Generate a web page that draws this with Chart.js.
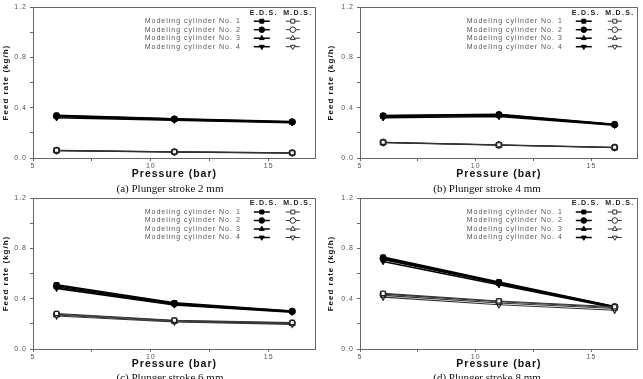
<!DOCTYPE html>
<html>
<head>
<meta charset="utf-8">
<script src="https://cdn.jsdelivr.net/npm/chart.js@4/dist/chart.umd.min.js"></script>
<style>
  html, body { margin: 0; padding: 0; background: #fff; }
  body { width: 643px; height: 379px; position: relative; overflow: hidden; }
  canvas { position: absolute; }
  .cap { position: absolute; font-family: "Liberation Serif", "Times New Roman", serif; font-size: 11px; line-height: 11px; color: #111; text-align: center; width: 240px; white-space: nowrap; z-index: 2; }
</style>
</head>
<body>
<canvas id="ca" width="321" height="190" style="left:0;top:0"></canvas>
<canvas id="cb" width="322" height="190" style="left:321px;top:0"></canvas>
<canvas id="cc" width="321" height="189" style="left:0;top:190px"></canvas>
<canvas id="cd" width="322" height="189" style="left:321px;top:190px"></canvas>
<div class="cap" id="capa" style="left:50px;top:183px"></div>
<div class="cap" id="capb" style="left:367px;top:183px"></div>
<div class="cap" id="capc" style="left:50px;top:372px"></div>
<div class="cap" id="capd" style="left:367px;top:372px"></div>
<script>
// ---- data ----
const pressure = [6, 11, 16];
const xTickLabels = [5, 10, 15];
const yTickLabels = [0.0, 0.4, 0.8, 1.2];
const cylinders = ['Modeling cylinder No. 1', 'Modeling cylinder No. 2', 'Modeling cylinder No. 3', 'Modeling cylinder No. 4'];
const groupLabels = ['E.D.S.', 'M.D.S.'];
const captions = ['(a) Plunger stroke 2 mm', '(b) Plunger stroke 4 mm', '(c) Plunger stroke 6 mm', '(d) Plunger stroke 8 mm'];

// E.D.S. (filled markers), one row per cylinder, values at pressure 6, 11, 16 bar
const eds2mm = [[0.340, 0.312, 0.290], [0.335, 0.310, 0.287], [0.330, 0.305, 0.284], [0.320, 0.300, 0.280]];
const mds2mm = [[0.062, 0.050, 0.042], [0.060, 0.049, 0.041], [0.059, 0.048, 0.040], [0.058, 0.047, 0.039]];

const eds4mm = [[0.337, 0.347, 0.268], [0.335, 0.344, 0.266], [0.330, 0.338, 0.264], [0.320, 0.330, 0.260]];
const mds4mm = [[0.125, 0.105, 0.085], [0.124, 0.104, 0.084], [0.123, 0.103, 0.083], [0.121, 0.101, 0.081]];

const eds6mm = [[0.510, 0.367, 0.302], [0.503, 0.362, 0.299], [0.493, 0.356, 0.296], [0.482, 0.350, 0.292]];
const mds6mm = [[0.282, 0.228, 0.210], [0.276, 0.224, 0.206], [0.270, 0.219, 0.202], [0.262, 0.214, 0.196]];

const eds8mm = [[0.730, 0.533, 0.338], [0.722, 0.527, 0.335], [0.712, 0.520, 0.332], [0.695, 0.510, 0.328]];
const mds8mm = [[0.442, 0.382, 0.336], [0.436, 0.376, 0.330], [0.426, 0.366, 0.322], [0.412, 0.352, 0.308]];

// ---- styling ----
const SANS = '"Liberation Sans", Arial, sans-serif';
const markerStyles = ['rect', 'circle', 'triangle', 'triangle'];
const markerRot = [0, 0, 0, 180];
const AXIS = '#666';

const framePlugin = {
  id: 'frame',
  beforeDraw(chart) { chart.ctx.letterSpacing = '1px'; },
  afterDraw(chart) {
    const {ctx, chartArea: a} = chart;
    ctx.save();
    ctx.strokeStyle = AXIS;
    ctx.lineWidth = 1;
    ctx.beginPath();
    ctx.moveTo(Math.round(a.left) + 0.5, Math.round(a.top) + 0.5);
    ctx.lineTo(Math.round(a.right) - 0.5, Math.round(a.top) + 0.5);
    ctx.lineTo(Math.round(a.right) - 0.5, Math.round(a.bottom) + 0.5);
    ctx.stroke();

    // legend
    const R = a.right, T = a.top;
    const xE = R - 54, xM = R - 23, xText = R - 75;
    ctx.fillStyle = '#222';
    ctx.textBaseline = 'middle';
    ctx.letterSpacing = '1.3px';
    ctx.font = 'bold 7px ' + SANS;
    ctx.textAlign = 'center';
    ctx.fillText(groupLabels[0], R - 52, T + 5.5);
    ctx.fillText(groupLabels[1], R - 18, T + 5.5);
    ctx.letterSpacing = '1px';
    ctx.font = '7px ' + SANS;
    ctx.textAlign = 'right';
    for (let i = 0; i < cylinders.length; i++) {
      const y = T + 14 + i * 8.5;
      ctx.fillStyle = '#555';
      ctx.fillText(cylinders[i], xText, y);
      // EDS sample
      ctx.strokeStyle = '#000';
      ctx.lineWidth = 1.5;
      ctx.beginPath(); ctx.moveTo(xE - 8, y); ctx.lineTo(xE + 8, y); ctx.stroke();
      ctx.fillStyle = '#000';
      ctx.lineWidth = 1;
      Chart.helpers.drawPoint(ctx, {pointStyle: markerStyles[i], rotation: markerRot[i], radius: 2.8, borderWidth: 1}, xE, y);
      // MDS sample
      ctx.strokeStyle = '#333';
      ctx.lineWidth = 1;
      ctx.beginPath(); ctx.moveTo(xM - 7, y); ctx.lineTo(xM + 7, y); ctx.stroke();
      ctx.fillStyle = '#fff';
      Chart.helpers.drawPoint(ctx, {pointStyle: markerStyles[i], rotation: markerRot[i], radius: 2.8, borderWidth: 1}, xM, y);
    }
    ctx.restore();
  }
};

function makeChart(id, eds, mds, cfg) {
  const datasets = [];
  for (let i = 0; i < 4; i++) {
    datasets.push({
      data: pressure.map((p, j) => ({x: p, y: mds[i][j]})),
      borderColor: '#333', backgroundColor: '#fff', pointBackgroundColor: '#fff',
      pointBorderColor: '#222', borderWidth: 1.1, pointBorderWidth: 1.2,
      pointStyle: markerStyles[i], pointRotation: markerRot[i], pointRadius: 3
    });
  }
  for (let i = 0; i < 4; i++) {
    datasets.push({
      data: pressure.map((p, j) => ({x: p, y: eds[i][j]})),
      borderColor: '#000', backgroundColor: '#000', pointBackgroundColor: '#000',
      pointBorderColor: '#000', borderWidth: 1.6, pointBorderWidth: 1,
      pointStyle: markerStyles[i], pointRotation: markerRot[i], pointRadius: 3.2
    });
  }
  const canvas = document.getElementById(id);
  const H = canvas.height;
  return new Chart(canvas, {
    type: 'line',
    data: {datasets},
    plugins: [framePlugin],
    options: {
      responsive: false, animation: false, devicePixelRatio: 1,
      layout: {padding: {top: cfg.padTop, right: cfg.padRight, bottom: cfg.padBottom, left: 0}},
      plugins: {legend: {display: false}, tooltip: {enabled: false}},
      elements: {line: {tension: 0}},
      scales: {
        x: {
          type: 'linear', min: 5, max: 17,
          afterBuildTicks: s => { s.ticks = [5, 7.5, 10, 12.5, 15].map(v => ({value: v})); },
          afterFit: s => { s.height = H - cfg.padBottom - cfg.plotBottom; },
          grid: {drawOnChartArea: false, drawTicks: true, tickLength: 3, color: AXIS},
          border: {display: true, color: AXIS, width: 1},
          ticks: {
            autoSkip: false, maxRotation: 0, padding: 1, color: '#555',
            font: {family: SANS, size: 7},
            callback: v => xTickLabels.includes(v) ? String(v) : ''
          },
          title: {display: true, text: 'Pressure (bar)', color: '#111', padding: 0,
                  font: {family: SANS, size: 10.5, weight: 'bold'}}
        },
        y: {
          type: 'linear', min: 0, max: 1.2,
          afterBuildTicks: s => { s.ticks = [0, 0.2, 0.4, 0.6, 0.8, 1.0, 1.2].map(v => ({value: v})); },
          afterFit: s => { s.width = cfg.yW; },
          grid: {drawOnChartArea: false, drawTicks: true, tickLength: 3, color: AXIS},
          border: {display: true, color: AXIS, width: 1},
          ticks: {
            autoSkip: false, padding: 3, color: '#555',
            font: {family: SANS, size: 7},
            callback: v => {
              const r = Math.round(v * 10) / 10;
              return yTickLabels.some(t => Math.abs(t - r) < 1e-9) ? r.toFixed(1) : '';
            }
          },
          title: {display: true, text: 'Feed rate (kg/h)', color: '#111', padding: {top: cfg.yTitlePad, bottom: 0},
                  font: {family: SANS, size: 8, weight: 'bold'}}
        }
      }
    }
  });
}

makeChart('ca', eds2mm, mds2mm, {yW: 33, yTitlePad: 0.5, padTop: 7, padRight: 5, padBottom: 10, plotBottom: 158});
makeChart('cb', eds4mm, mds4mm, {yW: 39, yTitlePad: 4.5, padTop: 7, padRight: 0, padBottom: 10, plotBottom: 158});
makeChart('cc', eds6mm, mds6mm, {yW: 33, yTitlePad: 0.5, padTop: 8, padRight: 5, padBottom: 9, plotBottom: 159});
makeChart('cd', eds8mm, mds8mm, {yW: 39, yTitlePad: 4.5, padTop: 8, padRight: 0, padBottom: 9, plotBottom: 159});

['capa', 'capb', 'capc', 'capd'].forEach((id, i) => { document.getElementById(id).textContent = captions[i]; });
</script>
</body>
</html>
